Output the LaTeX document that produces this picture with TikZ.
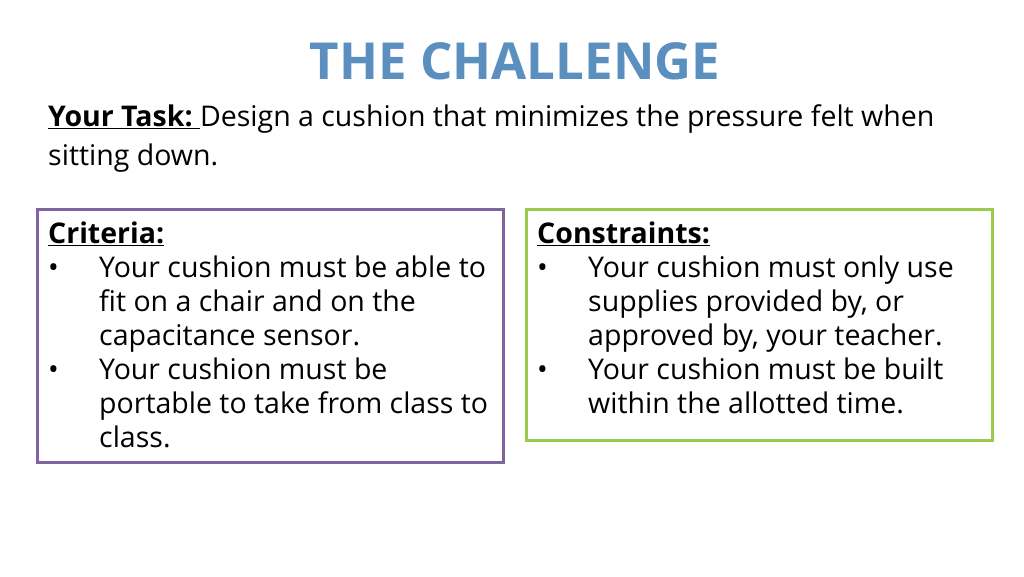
\documentclass[tikz,border=0pt]{standalone}
\usepackage{fontspec}
\setmainfont{Open Sans}
\definecolor{titleblue}{HTML}{5B8FC0}
\definecolor{boxpurple}{HTML}{8064A2}
\definecolor{boxgreen}{HTML}{9BCB4C}
\begin{document}
\begin{tikzpicture}[x=1pt,y=-1pt,
  txt/.style={anchor=base west,inner sep=0pt,font=\fontsize{28.5}{28.5}\selectfont,text=black},
  boxframe/.style={line width=3pt}]
\useasboundingbox[fill=white] (0,0) rectangle (1024,576);
\node[anchor=base,inner sep=0pt,font=\fontsize{51}{51}\selectfont\bfseries,text=titleblue] (title) at (515,79) {THE CHALLENGE};
\node[txt] (task1) at (48,126) {\textbf{\underline{Your Task:\ }}Design a cushion that minimizes the pressure felt when};
\node[txt] (task2) at (48,165) {sitting down.};
\draw[boxframe,boxpurple] (37,209) rectangle (503,462);
\draw[boxframe,boxgreen] (526,209) rectangle (992,440);
\node[txt] (c0) at (48,243) {\textbf{\underline{Criteria:}}};
\node[txt] (cb1) at (48,277) {•};
\node[txt] (c1) at (99,277) {Your cushion must be able to};
\node[txt] (c2) at (99,311) {fit on a chair and on the};
\node[txt] (c3) at (99,345) {capacitance sensor.};
\node[txt] (cb2) at (48,379) {•};
\node[txt] (c4) at (99,379) {Your cushion must be};
\node[txt] (c5) at (99,413) {portable to take from class to};
\node[txt] (c6) at (99,447) {class.};
\node[txt] (k0) at (537,243) {\textbf{\underline{Constraints:}}};
\node[txt] (kb1) at (537,277) {•};
\node[txt] (k1) at (588,277) {Your cushion must only use};
\node[txt] (k2) at (588,311) {supplies provided by, or};
\node[txt] (k3) at (588,345) {approved by, your teacher.};
\node[txt] (kb2) at (537,379) {•};
\node[txt] (k4) at (588,379) {Your cushion must be built};
\node[txt] (k5) at (588,413) {within the allotted time.};
\end{tikzpicture}
\end{document}
